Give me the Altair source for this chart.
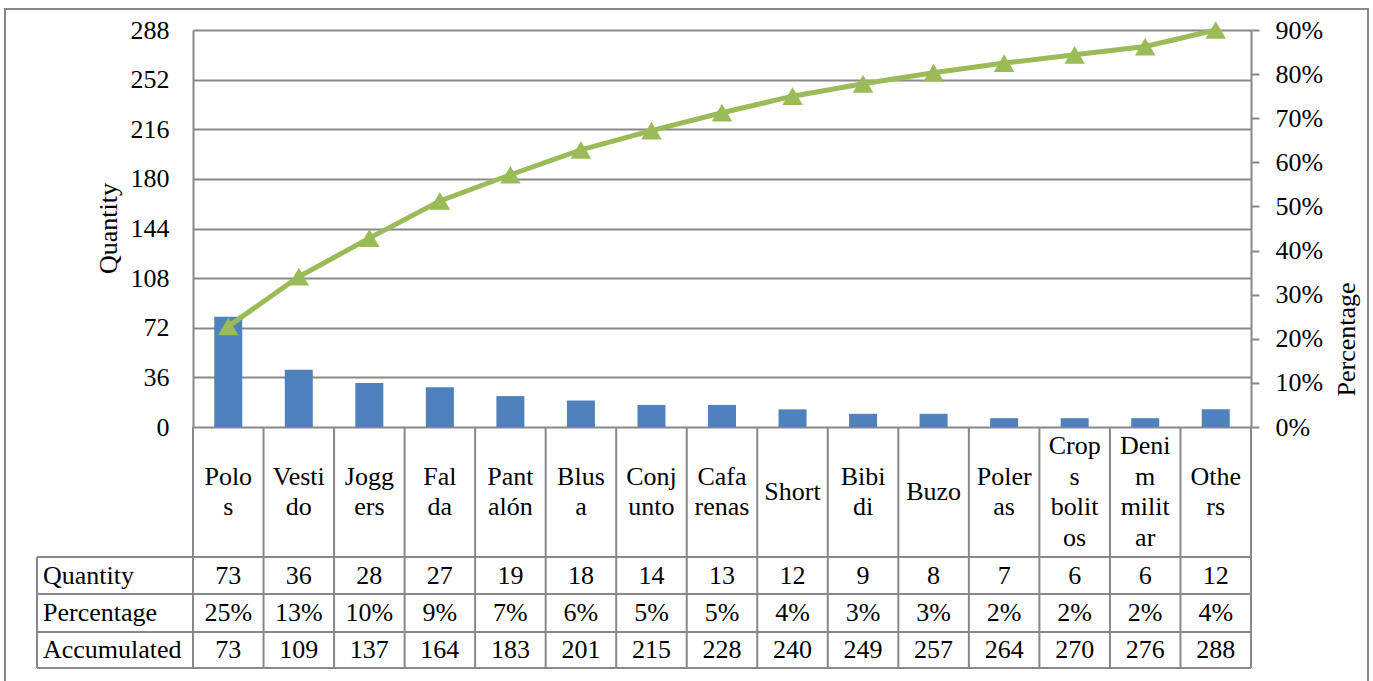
import altair as alt
import pandas as pd

# ---------------- data ----------------
categories = ["Polos", "Vestido", "Joggers", "Falda", "Pantalón", "Blusa", "Conjunto",
              "Cafarenas", "Short", "Bibidi", "Buzo", "Poleras", "Crops bolitos",
              "Denim militar", "Others"]
category_labels = ["Polo\ns", "Vesti\ndo", "Jogg\ners", "Fal\nda", "Pant\nalón", "Blus\na",
                   "Conj\nunto", "Cafa\nrenas", "Short", "Bibi\ndi", "Buzo", "Poler\nas",
                   "Crop\ns\nbolit\nos", "Deni\nm\nmilit\nar", "Othe\nrs"]
quantity = [73, 36, 28, 27, 19, 18, 14, 13, 12, 9, 8, 7, 6, 6, 12]
percentage = [25, 13, 10, 9, 7, 6, 5, 5, 4, 3, 3, 2, 2, 2, 4]
accumulated = [73, 109, 137, 164, 183, 201, 215, 228, 240, 249, 257, 264, 270, 276, 288]
row_names = ["Quantity", "Percentage", "Accumulated"]
left_ticks = [0, 36, 72, 108, 144, 180, 216, 252, 288]
right_ticks = [0, 0.1, 0.2, 0.3, 0.4, 0.5, 0.6, 0.7, 0.8, 0.9]

# ---------------- layout ----------------
W, H = 1058, 397
PAD = {"left": 193, "top": 30, "right": 122, "bottom": 254}
row_centers = [545.5, 583, 620]
row_lines = [527, 564, 602, 638]
label_center = 462
line_h = 30.5
header_left = -156
FONT = "'Liberation Serif', 'Times New Roman', Times, serif"
FS = 26
GRAY = "#888888"
BLUE = "#4F81BD"
GREEN = "#9BBB59"

df = pd.DataFrame({
    "cat": categories,
    "qty": quantity,
    "pct": [p / 100 for p in percentage],
    "acc": accumulated,
})

# one row per printed line of each category label, centred in the label row
lab_rows = []
for c, lab in zip(categories, category_labels):
    parts = lab.split("\n")
    n = len(parts)
    for i, t in enumerate(parts):
        lab_rows.append({"cat": c, "txt": t, "ly": label_center + (i - (n - 1) / 2) * line_h})
labs = pd.DataFrame(lab_rows)

rows = []
for c, q, p, a in zip(categories, quantity, percentage, accumulated):
    rows.append({"cat": c, "val": str(q), "ry": row_centers[0]})
    rows.append({"cat": c, "val": f"{p}%", "ry": row_centers[1]})
    rows.append({"cat": c, "val": str(a), "ry": row_centers[2]})
tbl = pd.DataFrame(rows)
hdr = pd.DataFrame({"name": row_names, "ry": row_centers})
hlines = pd.DataFrame({"ty": row_lines})
one = pd.DataFrame({"k": [0]})

X = alt.X("cat:N", sort=categories,
          scale=alt.Scale(paddingInner=0, paddingOuter=0), axis=None)

bars = alt.Chart(df).mark_bar(color=BLUE, width=28).encode(
    x=X,
    y=alt.Y("pct:Q", scale=alt.Scale(domain=[0, 0.9], nice=False),
            axis=alt.Axis(orient="right", values=right_ticks, format=".0%", grid=False,
                          tickSize=8, tickWidth=2, tickColor=GRAY,
                          domainColor=GRAY, domainWidth=2, labelPadding=16,
                          title="Percentage", titleAngle=270, titleX=95, titleY=309,
                          titleBaseline="middle", titleAlign="center")),
)

line = alt.Chart(df).mark_line(color=GREEN, strokeWidth=5).encode(
    x=X,
    y=alt.Y("acc:Q", scale=alt.Scale(domain=[0, 288], nice=False),
            axis=alt.Axis(orient="left", values=left_ticks, grid=True,
                          gridColor=GRAY, gridWidth=2, ticks=False, tickSize=0,
                          domainColor=GRAY, domainWidth=2, labelPadding=24,
                          title="Quantity", titleAngle=270, titleX=-85, titleY=198,
                          titleBaseline="middle", titleAlign="center")),
)

points = alt.Chart(df).mark_point(shape="triangle-up", size=420, filled=True,
                                  color=GREEN, opacity=1).encode(
    x=X,
    y=alt.Y("acc:Q", scale=alt.Scale(domain=[0, 288], nice=False), axis=None),
)

# table
h_rules = alt.Chart(hlines).mark_rule(color=GRAY, strokeWidth=2).encode(
    y=alt.Y("ty:Q", scale=None, axis=None),
    x=alt.value(header_left), x2=alt.value(W),
)
v_rules = alt.Chart(df).mark_rule(color=GRAY, strokeWidth=2).encode(
    x=alt.X("cat:N", sort=categories, bandPosition=0,
            scale=alt.Scale(paddingInner=0, paddingOuter=0), axis=None),
    y=alt.value(H), y2=alt.value(row_lines[-1]),
)
v_right = alt.Chart(one).mark_rule(color=GRAY, strokeWidth=2).encode(
    x=alt.value(W), y=alt.value(H), y2=alt.value(row_lines[-1]),
)
v_left = alt.Chart(one).mark_rule(color=GRAY, strokeWidth=2).encode(
    x=alt.value(header_left), y=alt.value(row_lines[0]), y2=alt.value(row_lines[-1]),
)

cat_text = alt.Chart(labs).mark_text(font=FONT, fontSize=FS, baseline="middle",
                                     align="center", color="black").encode(
    x=X, y=alt.Y("ly:Q", scale=None, axis=None), text="txt:N",
)
val_text = alt.Chart(tbl).mark_text(font=FONT, fontSize=FS, baseline="middle",
                                    align="center", color="black").encode(
    x=X, y=alt.Y("ry:Q", scale=None, axis=None), text="val:N",
)
hdr_text = alt.Chart(hdr).mark_text(font=FONT, fontSize=FS, baseline="middle",
                                    align="left", color="black").encode(
    x=alt.value(header_left + 6), y=alt.Y("ry:Q", scale=None, axis=None), text="name:N",
)

frame = alt.Chart(one).mark_rect(fillOpacity=0, stroke=GRAY, strokeWidth=2).encode(
    x=alt.value(-188), y=alt.value(-21), x2=alt.value(1175), y2=alt.value(700),
)

chart = alt.layer(
    frame, bars, line, points, h_rules, v_rules, v_right, v_left, cat_text, val_text, hdr_text
).resolve_scale(y="independent").properties(
    width=W, height=H, padding=PAD,
    autosize=alt.AutoSizeParams(type="none"),
    background="white",
).configure_view(stroke=None).configure_axis(
    labelFont=FONT, labelFontSize=FS, labelColor="black",
    titleFont=FONT, titleFontSize=FS, titleFontWeight="normal", titleColor="black",
)

chart.save("out.html", embed_options={"renderer": "svg", "actions": False})
